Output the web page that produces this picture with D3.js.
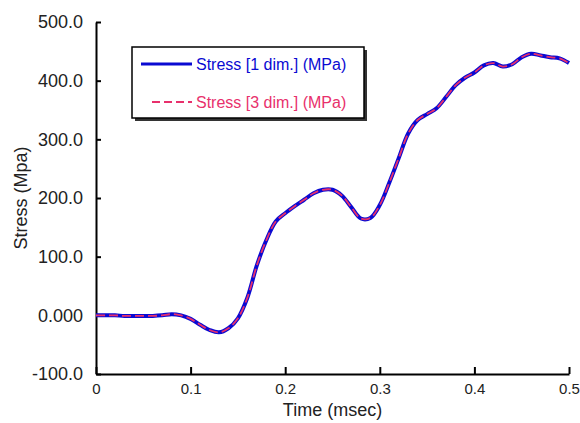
<!DOCTYPE html>
<html>
<head>
<meta charset="utf-8">
<script src="https://cdn.jsdelivr.net/npm/d3@7"></script>
<style>
  body { margin: 0; background: #fff; }
  text { font-family: "Liberation Sans", Arial, sans-serif; }
</style>
</head>
<body>
<div id="chart"></div>
<script>
// time (msec)
const times = [0.00, 0.01, 0.02, 0.03, 0.04, 0.05, 0.06, 0.07, 0.08, 0.09,
               0.10, 0.11, 0.12, 0.13, 0.14, 0.15, 0.16, 0.17, 0.18, 0.19,
               0.20, 0.21, 0.22, 0.23, 0.24, 0.25, 0.26, 0.27, 0.28, 0.29,
               0.30, 0.31, 0.32, 0.33, 0.34, 0.35, 0.36, 0.37, 0.38, 0.39,
               0.40, 0.41, 0.42, 0.43, 0.44, 0.45, 0.46, 0.47, 0.48, 0.49, 0.50];

// Stress [1 dim.] (MPa)
const stress1 = [0, 0, 0, -1, -1, -1, -1, 0, 2, 0,
                 -6, -16, -25, -29, -22, -5, 30, 85, 128, 160,
                 174, 186, 197, 208, 214, 214, 204, 184, 165, 166,
                 188, 226, 268, 310, 333, 343, 353, 372, 392, 405,
                 414, 426, 430, 424, 428, 440, 446, 443, 440, 438, 430];

// Stress [3 dim.] (MPa)
const stress3 = [0, 0, 0, -1, -1, -1, -1, 0, 2, 0,
                 -6, -16, -25, -29, -22, -5, 30, 85, 128, 160,
                 174, 186, 197, 208, 214, 214, 204, 184, 165, 166,
                 188, 226, 268, 310, 333, 343, 353, 372, 392, 405,
                 414, 426, 430, 424, 428, 440, 446, 443, 440, 438, 430];

const xTicks = [0, 0.1, 0.2, 0.3, 0.4, 0.5];
const xTickLabels = ['0', '0.1', '0.2', '0.3', '0.4', '0.5'];
const yTicks = [-100, 0, 100, 200, 300, 400, 500];
const yTickLabels = ['-100.0', '0.000', '100.0', '200.0', '300.0', '400.0', '500.0'];

const seriesNames = ['Stress [1 dim.] (MPa)', 'Stress [3 dim.] (MPa)'];

const blue = '#0a0ad2';
const pink = '#e8306c';

const W = 580, H = 423;
const margin = { top: 22, right: 11, bottom: 49, left: 96 };
const width = W - margin.left - margin.right;
const height = H - margin.top - margin.bottom;

const svg = d3.select('#chart')
    .append('svg')
    .attr('width', W)
    .attr('height', H);

const g = svg.append('g')
    .attr('transform', `translate(${margin.left},${margin.top})`);

const x = d3.scaleLinear().domain([0, 0.5]).range([0, width]);
const y = d3.scaleLinear().domain([-100, 500]).range([height, 0]);

// axes, ticks pointing inward
const xAxis = g.append('g')
    .attr('transform', `translate(0,${height})`)
    .call(d3.axisBottom(x).tickValues(xTicks).tickSizeInner(-7).tickSizeOuter(0)
        .tickFormat((d, i) => xTickLabels[i]));
xAxis.selectAll('text')
    .attr('y', 9)
    .style('font-size', '15px')
    .attr('fill', '#222');

const yAxis = g.append('g')
    .call(d3.axisLeft(y).tickValues(yTicks).tickSizeInner(-5).tickSizeOuter(0)
        .tickFormat((d, i) => yTickLabels[i]));
yAxis.selectAll('text')
    .attr('x', -13)
    .style('font-size', '18px')
    .attr('fill', '#222');

g.selectAll('.domain').attr('stroke', '#000').attr('stroke-width', 2);
g.selectAll('.tick line').attr('stroke', '#000').attr('stroke-width', 2);

// axis titles
svg.append('text')
    .attr('x', margin.left + width / 2)
    .attr('y', 416)
    .attr('text-anchor', 'middle')
    .style('font-size', '18px')
    .attr('fill', '#222')
    .text('Time (msec)');

svg.append('text')
    .attr('transform', `translate(27,${margin.top + height / 2}) rotate(-90)`)
    .attr('text-anchor', 'middle')
    .style('font-size', '18px')
    .attr('fill', '#222')
    .text('Stress (Mpa)');

// lines
const line1 = d3.line()
    .x((d, i) => x(times[i]))
    .y(d => y(d))
    .curve(d3.curveCatmullRom);

g.append('path')
    .datum(stress1)
    .attr('fill', 'none')
    .attr('stroke', blue)
    .attr('stroke-width', 4)
    .attr('d', line1);

g.append('path')
    .datum(stress3)
    .attr('fill', 'none')
    .attr('stroke', pink)
    .attr('stroke-width', 1.8)
    .attr('stroke-dasharray', '9,4')
    .attr('d', line1);

// legend
const legend = svg.append('g').attr('transform', 'translate(132,47)');
legend.append('rect')
    .attr('x', 3).attr('y', 3)
    .attr('width', 232).attr('height', 71)
    .attr('fill', '#333');
legend.append('rect')
    .attr('width', 232).attr('height', 71)
    .attr('fill', '#fff')
    .attr('stroke', '#000')
    .attr('stroke-width', 1.5);

const items = [
    { name: seriesNames[0], color: blue, width: 3, dash: null, y: 17, x0: 9 },
    { name: seriesNames[1], color: pink, width: 2, dash: '8,4', y: 55, x0: 20 }
];
items.forEach(it => {
    legend.append('line')
        .attr('x1', it.x0).attr('x2', 60)
        .attr('y1', it.y).attr('y2', it.y)
        .attr('stroke', it.color)
        .attr('stroke-width', it.width)
        .attr('stroke-dasharray', it.dash);
    legend.append('text')
        .attr('x', 64)
        .attr('y', it.y + 6)
        .style('font-size', '16px')
        .attr('fill', it.color)
        .text(it.name);
});
</script>
</body>
</html>
